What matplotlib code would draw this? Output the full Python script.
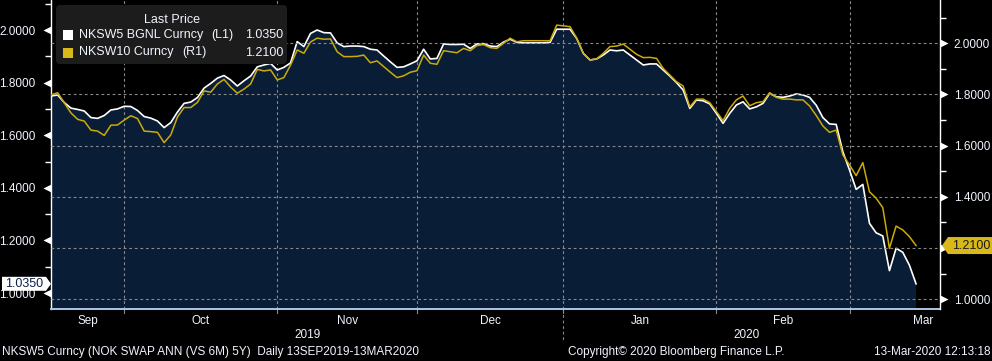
import matplotlib
matplotlib.use("Agg")
import matplotlib.pyplot as plt
import matplotlib.transforms as mtransforms
from matplotlib.patches import Polygon, FancyBboxPatch, Rectangle
import numpy as np

plt.rcParams['font.family'] = ['Liberation Sans', 'DejaVu Sans']

# ---------------- data (business-day index 0 = first day shown) ----------------
nksw5 = [1.749, 1.753, 1.724, 1.703, 1.698, 1.692, 1.667, 1.664, 1.675, 1.696,
         1.700, 1.710, 1.709, 1.694, 1.671, 1.665, 1.654, 1.629, 1.648, 1.688,
         1.721, 1.726, 1.743, 1.779, 1.797, 1.817, 1.827, 1.810, 1.787, 1.807,
         1.825, 1.860, 1.867, 1.873, 1.848, 1.858, 1.875, 1.956, 1.937, 1.987,
         2.000, 1.990, 1.989, 1.951, 1.937, 1.939, 1.939, 1.937, 1.927, 1.924,
         1.901, 1.879, 1.858, 1.860, 1.871, 1.883, 1.927, 1.890, 1.892, 1.947,
         1.945, 1.945, 1.946, 1.930, 1.947, 1.948, 1.939, 1.937, 1.954, 1.965,
         1.953, 1.951, 1.951, 1.951, 1.951, 1.953, 2.003, 2.003, 2.003, 1.968,
         1.911, 1.886, 1.890, 1.905, 1.924, 1.921, 1.924, 1.905, 1.886, 1.867,
         1.871, 1.871, 1.848, 1.825, 1.800, 1.772, 1.702, 1.734, 1.731, 1.719,
         1.683, 1.645, 1.683, 1.715, 1.727, 1.700, 1.708, 1.721, 1.759, 1.746,
         1.744, 1.749, 1.757, 1.753, 1.744, 1.714, 1.667, 1.643, 1.641, 1.537,
         1.468, 1.394, 1.413, 1.265, 1.229, 1.217, 1.085, 1.170, 1.155, 1.106,
         1.035]

nksw10 = [1.798, 1.807, 1.767, 1.728, 1.703, 1.696, 1.661, 1.657, 1.640, 1.680,
          1.681, 1.700, 1.717, 1.706, 1.657, 1.655, 1.652, 1.612, 1.642, 1.712,
          1.749, 1.749, 1.769, 1.814, 1.809, 1.841, 1.859, 1.829, 1.805, 1.821,
          1.841, 1.898, 1.892, 1.896, 1.857, 1.866, 1.915, 1.974, 1.961, 2.005,
          2.020, 2.016, 2.017, 1.967, 1.948, 1.948, 1.949, 1.954, 1.924, 1.931,
          1.909, 1.887, 1.866, 1.873, 1.887, 1.893, 1.954, 1.922, 1.918, 1.971,
          1.967, 1.963, 1.980, 1.971, 1.991, 1.995, 1.983, 1.980, 2.000, 2.020,
          2.006, 2.010, 2.010, 2.010, 2.010, 2.010, 2.071, 2.068, 2.065, 2.020,
          1.961, 1.935, 1.939, 1.961, 1.987, 1.989, 1.997, 1.977, 1.957, 1.944,
          1.945, 1.941, 1.902, 1.876, 1.850, 1.833, 1.752, 1.782, 1.782, 1.768,
          1.733, 1.698, 1.746, 1.779, 1.794, 1.756, 1.768, 1.772, 1.807, 1.789,
          1.782, 1.782, 1.779, 1.779, 1.755, 1.718, 1.677, 1.652, 1.661, 1.564,
          1.525, 1.483, 1.534, 1.420, 1.395, 1.358, 1.199, 1.286, 1.271, 1.245,
          1.210]

month_labels = ["Sep", "Oct", "Nov", "Dec", "Jan", "Feb", "Mar"]
month_label_pos = [5.5, 22.5, 44.5, 66, 88.5, 110, 131]
month_bounds = [11, 34, 55, 77, 100, 120]
year_labels = ["2019", "2020"]
year_label_pos = [38.5, 104.5]
year_bound = 77

major_ticks = [1.0, 1.2, 1.4, 1.6, 1.8, 2.0]
minor_ticks = [1.1, 1.3, 1.5, 1.7, 1.9, 2.1]

legend_names = ["NKSW5 BGNL Curncy", "NKSW10 Curncy"]
legend_axes = ["(L1)", "(R1)"]
legend_title = "Last Price"
footer_left = "NKSW5 Curncy (NOK SWAP ANN (VS 6M) 5Y)  Daily 13SEP2019-13MAR2020"
footer_mid = "Copyright\u00a9 2020 Bloomberg Finance L.P."
footer_right = "13-Mar-2020 12:13:18"

# ---------------- style ----------------
BG = "#000000"
FILL = "#091d37"
WHITE = "#ffffff"
YELLOW = "#ccaa08"
TAGYELLOW = "#d9b81a"
GRID = "#8a8a8a"
AXISBLUE = "#a9c8e8"
TXT = "#f0f4ff"
FS = 8.5

W, H = 992, 361
fig = plt.figure(figsize=(W / 100, H / 100), dpi=100, facecolor=BG)
ax = fig.add_axes([51 / W, (H - 309) / H, (940 - 51) / W, 309 / H])
ax.set_facecolor(BG)
ax2 = ax.twinx()

x = np.arange(len(nksw5))

ax.set_xlim(0, 133.6)
ax.set_ylim(0.9392, 2.1141)
ax2.set_ylim(0.9621, 2.1691)

# fill + white line (left axis)
ax.fill_between(x, nksw5, 0.5, color=FILL, linewidth=0, zorder=1)
for b in month_bounds:
    ax.axvline(b, color=GRID, lw=0.8, ls=(0, (2.5, 2.5)), zorder=2)
ax.plot(x, nksw5, color=WHITE, lw=1.2, zorder=4)

# horizontal dashed grid from right axis
for v in major_ticks:
    ax2.axhline(v, color=GRID, lw=0.8, ls=(0, (2.5, 2.5)), zorder=1)
ax2.plot(x, nksw10, color=YELLOW, lw=1.1, zorder=3)

# spines
for s in ["top", "right"]:
    ax.spines[s].set_visible(False)
ax.spines["left"].set_color(WHITE)
ax.spines["left"].set_linewidth(1.0)
ax.spines["bottom"].set_color(AXISBLUE)
ax.spines["bottom"].set_linewidth(1.4)
for s in ["top", "left", "bottom"]:
    ax2.spines[s].set_visible(False)
ax2.spines["right"].set_color(WHITE)
ax2.spines["right"].set_linewidth(1.0)

# y ticks
ax.set_yticks(major_ticks)
ax.set_yticklabels([f"{v:.4f}" for v in major_ticks])
ax.set_yticks(minor_ticks, minor=True)
ax.tick_params(axis="y", which="major", length=0, pad=11, labelsize=FS, labelcolor=TXT)
ax.tick_params(axis="y", which="minor", length=4, width=1, color=WHITE, direction="out")

# right labels: the one hidden behind the last-value tag is left out
right_labels = ["" if abs(v - nksw10[-1]) < 0.03 else f"{v:.4f}" for v in major_ticks]
ax2.set_yticks(major_ticks)
ax2.set_yticklabels(right_labels)
ax2.set_yticks(minor_ticks, minor=True)
ax2.tick_params(axis="y", which="major", length=0, pad=10, labelsize=FS, labelcolor=TXT)
ax2.tick_params(axis="y", which="minor", length=4, width=1, color=WHITE, direction="out")

# triangle markers for major ticks
tl = mtransforms.offset_copy(mtransforms.blended_transform_factory(ax.transAxes, ax.transData),
                             fig=fig, x=-4, y=0, units="dots")
ax.plot([0] * len(major_ticks), major_ticks, ls="none", marker="<", ms=5.5, color=WHITE,
        mec="none", transform=tl, clip_on=False, zorder=5)
tr = mtransforms.offset_copy(mtransforms.blended_transform_factory(ax2.transAxes, ax2.transData),
                             fig=fig, x=4, y=0, units="dots")
ax2.plot([1] * len(major_ticks), major_ticks, ls="none", marker=">", ms=5.5, color=WHITE,
         mec="none", transform=tr, clip_on=False, zorder=5)

# x labels
ax.set_xticks(month_label_pos)
ax.set_xticklabels(month_labels)
ax.tick_params(axis="x", which="major", length=0, pad=4, labelsize=FS, labelcolor=TXT)
bt = mtransforms.blended_transform_factory(ax.transData, ax.transAxes)
for b in month_bounds:
    ax.plot([b, b], [0, -0.012], color=GRID, lw=0.8, transform=bt, clip_on=False)
ax.plot([year_bound, year_bound], [0, -0.10], color=GRID, lw=0.8, ls=(0, (2.5, 2.5)),
        transform=bt, clip_on=False)
for lab, p in zip(year_labels, year_label_pos):
    ax.text(p, -0.085, lab, transform=bt, ha="center", va="center", fontsize=FS, color=TXT)

# footer
fig.text(2 / W, 1 - 352 / H, footer_left, ha="left", va="center", fontsize=FS, color=TXT)
fig.text(676 / W, 1 - 352 / H, footer_mid, ha="center", va="center", fontsize=FS, color=TXT)
fig.text(990 / W, 1 - 352 / H, footer_right, ha="right", va="center", fontsize=FS, color=TXT)

# legend
ident = mtransforms.IdentityTransform()
def fy(py):
    return H - py
leg = FancyBboxPatch((56, fy(64)), 231, 59, boxstyle="round,pad=0,rounding_size=4",
                     transform=ident, facecolor="#1c1c1c", edgecolor="none", zorder=10)
fig.add_artist(leg)
fig.text(172, fy(20), legend_title, transform=ident, ha="center", va="center",
         fontsize=FS + 0.5, color=TXT, zorder=11)
last_vals = [nksw5[-1], nksw10[-1]]
sq_colors = [WHITE, TAGYELLOW]
for k in range(2):
    yy = fy(35 + 17.5 * k)
    fig.add_artist(Rectangle((63, yy - 5), 10, 10, transform=ident, facecolor=sq_colors[k],
                             edgecolor="none", zorder=11))
    fig.text(79, yy, legend_names[k], transform=ident, ha="left", va="center",
             fontsize=FS + 0.5, color=TXT, zorder=11)
    fig.text(211 if k == 0 else 182, yy, legend_axes[k], transform=ident, ha="left",
             va="center", fontsize=FS + 0.5, color=TXT, zorder=11)
    fig.text(283, yy, f"{last_vals[k]:.4f}", transform=ident, ha="right", va="center",
             fontsize=FS + 0.5, color=TXT, zorder=11)

# last-value tags
yl = ax.transData.transform((0, nksw5[-1]))[1]
fig.add_artist(Polygon([(2, yl - 7), (46, yl - 7), (51, yl), (46, yl + 7), (2, yl + 7)],
                       closed=True, transform=ident, facecolor=WHITE, edgecolor="none", zorder=12))
fig.text(24, yl, f"{nksw5[-1]:.4f}", transform=ident, ha="center", va="center",
         fontsize=FS + 0.5, color="#0c2048", zorder=13)
yr = ax2.transData.transform((0, nksw10[-1]))[1]
fig.add_artist(Polygon([(942, yr), (948, yr - 8.5), (992, yr - 8.5), (992, yr + 8.5), (948, yr + 8.5)],
                       closed=True, transform=ident, facecolor=TAGYELLOW, edgecolor="none", zorder=12))
fig.text(971, yr, f"{nksw10[-1]:.4f}", transform=ident, ha="center", va="center",
         fontsize=FS + 0.5, color="#1a1a1a", zorder=13)

fig.savefig("out.png", dpi=100, facecolor=BG)
